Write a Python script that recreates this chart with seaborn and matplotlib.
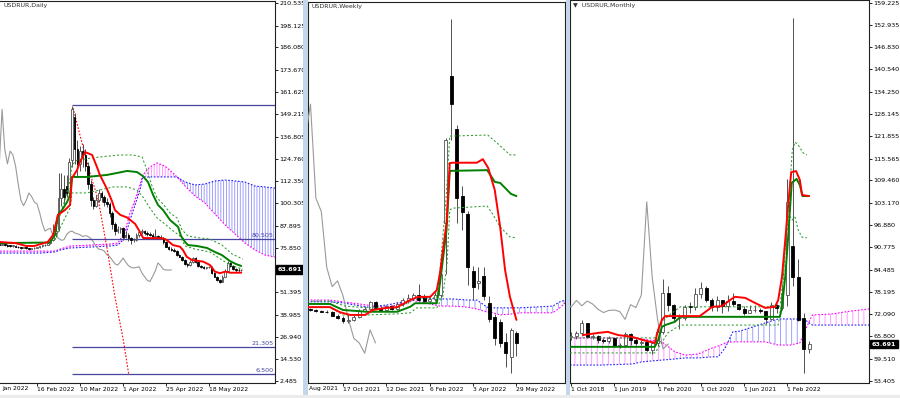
import numpy as np
import matplotlib
matplotlib.use("Agg")
import matplotlib.pyplot as plt
import matplotlib.transforms as mtransforms
from matplotlib.patches import Rectangle
import seaborn as sns

sns.set_theme(style="white")
plt.rcParams["font.family"] = ["DejaVu Sans"]
plt.rcParams["hatch.linewidth"] = 0.6
plt.rcParams["axes.unicode_minus"] = False

# ============================ DATA ============================
# ---- Daily USDRUR (bar index 0 .. 90) ----
daily_open = [78.0, 77.5, 78.0, 77.5, 77.0, 76.8, 77.0, 76.5, 76.2, 75.8,
              76.0, 75.5, 75.3, 75.5, 75.8, 76.0, 76.8, 77.2, 77.5, 78.5,
              80.0, 84.0, 86.0, 103.0, 108.0, 110.0, 106.0, 124.0, 148.0, 130.0,
              122.0, 129.0, 127.0, 121.0, 111.0, 102.0, 99.0, 102.0, 106.0, 104.0,
              101.0, 100.0, 95.0, 89.0, 85.0, 86.0, 86.5, 82.0, 83.0, 81.0,
              80.0, 80.2, 83.0, 84.5, 85.0, 84.0, 83.5, 83.0, 82.0, 82.5,
              82.0, 81.0, 79.0, 76.5, 75.0, 74.8, 74.0, 72.0, 71.0, 69.0,
              67.0, 66.3, 68.0, 70.2, 68.0, 66.0, 65.0, 64.7, 65.0, 65.4,
              62.0, 60.0, 58.0, 57.2, 60.0, 63.0, 67.5, 66.0, 64.0, 63.6, 63.5]
daily_high = [78.5, 78.5, 78.2, 77.8, 77.4, 77.5, 77.2, 76.8, 76.5, 76.4,
              76.2, 75.8, 75.9, 76.1, 76.4, 77.0, 77.6, 78.0, 79.0, 80.5,
              89.0, 88.0, 117.0, 117.0, 116.0, 116.0, 125.0, 154.0, 150.0, 135.0,
              132.0, 133.0, 130.0, 123.0, 113.0, 104.0, 105.0, 108.0, 107.0, 105.0,
              103.0, 101.0, 96.0, 90.0, 88.0, 87.5, 87.0, 85.0, 84.0, 82.0,
              81.0, 84.0, 85.5, 86.0, 85.5, 85.0, 84.5, 84.0, 86.0, 83.0,
              83.0, 81.5, 79.5, 77.0, 76.0, 75.5, 74.5, 72.5, 71.5, 69.5,
              67.5, 69.0, 71.0, 70.5, 68.5, 66.5, 66.0, 65.5, 66.0, 65.8,
              62.5, 60.5, 58.5, 61.0, 64.0, 68.5, 68.0, 66.5, 64.5, 64.5, 64.2]
daily_low = [77.0, 77.2, 77.0, 76.5, 76.3, 76.5, 76.0, 75.8, 75.3, 75.5,
             75.0, 74.8, 75.0, 75.2, 75.5, 75.8, 76.5, 76.9, 77.2, 78.0,
             79.5, 82.0, 85.0, 99.0, 100.0, 104.0, 104.0, 120.0, 122.0, 115.0,
             118.0, 120.0, 118.0, 108.0, 99.0, 97.0, 98.0, 101.0, 101.0, 99.0,
             98.0, 93.0, 86.0, 83.0, 84.0, 84.0, 80.0, 81.0, 79.5, 78.0,
             79.0, 79.5, 82.0, 83.5, 83.0, 82.5, 82.5, 81.5, 81.5, 81.0,
             80.5, 78.0, 76.0, 74.5, 74.0, 73.5, 71.5, 70.5, 68.5, 66.5,
             65.5, 66.0, 67.5, 67.5, 65.5, 64.5, 64.0, 64.0, 64.5, 61.5,
             59.5, 57.5, 56.5, 57.0, 59.5, 62.5, 65.0, 63.5, 62.5, 62.5, 63.0]
daily_close = [77.5, 78.0, 77.5, 77.0, 76.8, 77.0, 76.5, 76.2, 75.8, 76.0,
               75.5, 75.3, 75.5, 75.8, 76.0, 76.8, 77.2, 77.5, 78.5, 80.0,
               84.0, 85.0, 103.0, 108.0, 104.0, 106.0, 123.0, 152.0, 130.0, 122.0,
               129.0, 127.0, 121.0, 111.0, 102.0, 99.0, 102.0, 106.0, 104.0, 101.0,
               100.0, 95.0, 89.0, 85.0, 86.0, 86.5, 82.0, 83.0, 81.0, 80.0,
               80.2, 83.0, 84.5, 85.0, 84.0, 83.5, 83.0, 82.0, 82.5, 82.0,
               81.0, 79.0, 76.5, 75.0, 74.8, 74.0, 72.0, 71.0, 69.0, 67.0,
               66.3, 68.0, 70.2, 68.0, 66.0, 65.0, 64.7, 65.0, 65.4, 62.0,
               60.0, 58.0, 57.2, 60.0, 63.0, 67.5, 66.0, 64.0, 63.6, 63.5, 63.691]

daily_tenkan_x = [0, 6, 10, 13, 18, 20, 21.8, 24.4, 26.3, 27, 28.9, 30, 31.9, 34.5, 36.3, 37.4,
                  39.9, 41.9, 43, 45, 47.5, 50.5, 52.3, 53.5, 61, 62.3, 64.6, 67.2, 68.3, 69.7,
                  71.6, 75.8, 78.4, 80.2, 82.1, 84, 85.8, 90]
daily_tenkan_y = [79.0, 78.4, 76.8, 76.8, 79.0, 82.9, 93.9, 96.6, 99.4, 114.2, 118.6, 123.0, 128.5,
                  126.9, 120.3, 115.9, 108.6, 101.5, 96.6, 93.9, 92.5, 89.0, 84.5, 81.2, 81.0, 80.1,
                  77.3, 76.4, 74.6, 70.9, 69.1, 68.2, 66.3, 62.7, 61.8, 62.7, 62.1, 62.1]
daily_kijun_x = [0, 18.8, 20.7, 21.8, 23.3, 25.2, 26.3, 27, 32.6, 40, 43.8, 47.5, 51.2, 53.4, 55.3,
                 57.2, 59, 60.9, 63.5, 66.5, 67.6, 69.1, 70.2, 73.5, 77.3, 80.2, 82.8, 85.8, 88, 90]
daily_kijun_y = [78.4, 78.7, 82.9, 93.9, 96.6, 101.0, 104.9, 114.8, 114.8, 115.9, 117.0, 118.1,
                 117.5, 115.3, 112.0, 104.9, 99.4, 96.6, 91.1, 87.3, 82.3, 79.0, 77.3, 76.8, 75.7,
                 73.5, 71.8, 68.5, 66.9, 65.8]
daily_upper_x = [20.7, 22.6, 24.4, 26.3, 27, 28.9, 37.4, 44.9, 49.7, 53.1, 54.9, 56.8, 58.7, 60.9,
                 63.5, 66.1, 68, 70.2, 74.7, 78.4, 82.8, 86.6, 90.6]
daily_upper_y = [84.5, 93.9, 102.1, 113.1, 121.4, 124.1, 125.8, 126.9, 126.9, 125.8, 118.6, 109.8,
                 103.2, 99.9, 95.0, 92.2, 85.6, 82.3, 81.2, 80.6, 77.3, 72.4, 69.6]
daily_lower_x = [20.7, 22.6, 24.4, 26.3, 27, 32.6, 37.4, 42.3, 47.5, 51.2, 53.4, 56, 58.7, 61.6,
                 64.2, 67.2, 69.1, 72.8, 78.4, 82.8, 86.6, 90.6]
daily_lower_y = [80.1, 86.7, 92.2, 97.7, 106.0, 106.0, 107.6, 109.3, 109.3, 107.6, 103.8, 97.7,
                 92.2, 88.9, 85.6, 82.3, 76.8, 75.1, 73.5, 69.1, 65.8, 64.1]
daily_cloud_x = [0.2, 7.7, 15.1, 20.7, 22.6, 26.3, 33.7, 41.2, 44.1, 46.7, 48.6, 50.5, 52.3, 53.4,
                 56.0, 58.7, 61.6, 64.2, 66.1, 69.1, 72.8, 76.5, 80.2, 84.0, 87.7, 91.4, 95.1,
                 98.8, 102.6]
daily_span_a = [74.0, 74.0, 74.0, 74.0, 75.1, 76.8, 77.3, 77.9, 78.4, 84.5, 95.0, 102.1, 110.4,
                115.9, 120.3, 122.5, 120.8, 117.5, 114.8, 109.8, 104.3, 100.5, 94.4, 88.4, 83.4,
                78.4, 74.6, 71.8, 70.7]
daily_span_b = [72.9, 72.9, 72.9, 73.5, 74.6, 75.7, 76.2, 76.8, 77.3, 81.2, 91.1, 99.4, 107.6,
                114.8, 114.8, 114.8, 114.8, 114.8, 114.8, 112.0, 110.4, 110.9, 112.6, 113.1,
                112.6, 112.0, 109.8, 109.3, 108.7]
daily_levels = [154.5, 80.505, 21.305, 6.5]
daily_level_labels = ["", "80.505", "21.305", "6.500"]
daily_fan_x = [27.4, 31.1, 33.7, 36.8, 40.0, 43.0, 46.1, 48.1]
daily_fan_y = [152.8, 131.4, 117.0, 102.1, 76.0, 48.9, 25.1, 6.5]
daily_yticks = [210.535, 198.125, 186.080, 173.670, 161.625, 149.215, 136.805, 124.760, 112.350,
                100.305, 87.895, 75.850, 51.395, 38.985, 26.940, 14.530, 2.485]
daily_xtick_pos = [14, 30, 46, 62, 78]
daily_xtick_labels = ["16 Feb 2022", "10 Mar 2022", "1 Apr 2022", "25 Apr 2022", "18 May 2022"]
daily_first_label = "Jan 2022"

# ---- Weekly USDRUR (bar index 0 .. 38) ----
weekly_open = [73.4, 72.9, 72.6, 72.5, 72.3, 71.4, 70.8, 69.8, 70.3, 71.0, 72.8, 73.4, 75.2, 73.6,
               73.1, 74.0, 73.3, 74.8, 75.8, 76.4, 77.3, 76.6, 75.6, 76.2, 77.2, 97.5, 139.0,
               124.0, 105.0, 100.0, 84.0, 80.6, 82.5, 75.0, 71.0, 69.5, 64.1, 59.8, 66.5]
weekly_high = [73.6, 73.2, 73.0, 73.1, 72.6, 71.8, 71.2, 71.5, 71.6, 73.3, 74.0, 75.6, 75.4, 74.2,
               74.4, 74.5, 75.2, 76.3, 77.4, 77.8, 80.4, 77.5, 77.0, 78.0, 88.0, 121.5, 155.0,
               125.0, 108.0, 101.0, 85.5, 85.2, 85.0, 77.0, 72.0, 70.5, 66.5, 68.0, 67.0]
weekly_low = [72.7, 72.4, 72.3, 72.2, 71.2, 70.5, 69.4, 69.3, 70.0, 70.8, 72.3, 73.0, 73.2, 72.9,
              72.9, 72.9, 73.0, 74.1, 75.0, 75.9, 75.5, 75.2, 75.4, 75.5, 76.5, 83.0, 121.0,
              97.5, 95.5, 80.0, 75.8, 79.0, 75.8, 69.5, 63.0, 62.5, 57.0, 55.2, 60.0]
weekly_close = [72.9, 72.6, 72.5, 72.3, 71.4, 70.8, 69.8, 70.3, 71.0, 72.8, 73.4, 75.2, 73.6, 73.1,
                74.0, 73.3, 74.8, 75.8, 76.4, 77.3, 75.8, 75.6, 76.2, 77.2, 83.0, 121.0, 131.0,
                104.5, 100.7, 85.0, 79.6, 81.2, 77.0, 70.5, 65.0, 63.7, 60.8, 67.4, 63.691]
weekly_tenkan_x = [-0.6, 3.6, 5.4, 7.3, 10.1, 11.5, 14.1, 16.0, 18.4, 19.8, 22.1, 23.3, 23.9, 25.1,
                   25.7, 26.3, 30.7, 31.8, 32.8, 34.0, 35.0, 35.9, 36.8, 38.0]
weekly_tenkan_y = [73.8, 73.8, 72.4, 71.6, 71.6, 73.0, 73.6, 73.8, 75.8, 76.7, 76.7, 78.6, 83.4,
                   97.5, 114.4, 114.5, 114.5, 115.5, 113.0, 106.8, 96.4, 84.3, 76.7, 70.2]
weekly_kijun_x = [-0.6, 3.6, 6.0, 10.4, 16.0, 18.4, 19.3, 23.3, 23.9, 25.1, 25.7, 32.6, 34.0, 35.0,
                  37.0, 38.0]
weekly_kijun_y = [74.7, 74.7, 73.0, 72.5, 72.5, 73.9, 74.9, 74.9, 80.6, 95.5, 112.2, 112.4, 109.1,
                  108.8, 105.7, 105.1]
weekly_upper_x = [-0.6, 3.6, 6.4, 10.4, 16.0, 18.4, 19.3, 23.3, 23.9, 25.0, 25.7, 32.7, 34.4, 36.8, 38.0]
weekly_upper_y = [75.5, 75.5, 74.1, 73.6, 73.6, 75.3, 76.4, 76.4, 84.3, 104.0, 122.0, 122.3, 120.1,
                  116.7, 116.7]
weekly_lower_x = [-0.6, 3.6, 6.0, 10.4, 16.0, 18.4, 19.6, 23.3, 24.4, 25.2, 25.7, 26.3, 32.6, 33.5,
                  35.0, 36.8, 38.0]
weekly_lower_y = [73.8, 73.8, 71.6, 71.6, 71.9, 72.2, 73.6, 73.6, 76.7, 86.2, 101.2, 101.7, 102.3,
                  100.3, 96.4, 93.6, 93.3]
weekly_cloud_x = [-0.6, 3.6, 6.0, 10.4, 14.1, 16.0, 18.4, 20.2, 23.9, 26.3, 28.9, 30.7, 32.6, 33.7,
                  35.0, 37.4, 38.6, 41.1, 44.7, 46.0, 47.0]
weekly_span_a = [75.8, 75.8, 75.3, 74.4, 73.8, 74.4, 75.8, 75.3, 74.1, 74.1, 73.8, 73.3, 72.4, 72.2,
                 71.6, 71.9, 72.2, 72.2, 72.2, 73.6, 75.0]
weekly_span_b = [75.3, 75.3, 75.0, 73.8, 74.4, 75.0, 75.5, 76.4, 76.1, 76.1, 75.8, 75.8, 73.8, 73.6,
                 73.6, 73.6, 73.6, 73.8, 74.1, 75.3, 75.8]
weekly_xtick_pos = [6, 14, 22, 30, 38]
weekly_xtick_labels = ["17 Oct 2021", "12 Dec 2021", "6 Feb 2022", "3 Apr 2022", "29 May 2022"]
weekly_first_label = "Aug 2021"

# ---- Monthly USDRUR (bar index 0 = Oct 2018 .. 44 = Jun 2022) ----
monthly_open = [65.6, 65.8, 66.8, 69.5, 65.7, 65.8, 64.8, 64.6, 65.3, 63.1, 63.4, 66.6, 64.8, 63.9,
                64.2, 62.0, 63.9, 67.0, 78.0, 74.5, 70.9, 71.1, 74.1, 74.0, 77.8, 79.3, 76.0, 74.0,
                75.9, 74.4, 75.7, 74.9, 73.4, 72.5, 73.1, 73.2, 72.8, 70.6, 74.7, 73.9, 77.4, 91.0,
                82.5, 71.0, 62.3]
monthly_high = [67.0, 67.3, 70.5, 69.7, 66.5, 66.2, 65.3, 65.8, 65.4, 64.0, 67.0, 66.8, 65.3, 64.7,
                64.3, 64.0, 67.5, 82.0, 80.0, 75.0, 72.0, 74.5, 75.5, 79.5, 81.0, 80.0, 76.5, 77.0,
                76.0, 77.5, 78.0, 75.0, 74.3, 74.5, 74.5, 73.8, 73.0, 75.5, 75.0, 80.4, 110.0, 155.0,
                87.5, 72.5, 64.5]
monthly_low = [64.8, 65.0, 66.0, 65.3, 65.2, 63.9, 63.9, 64.1, 62.9, 62.5, 63.3, 63.5, 63.5, 63.5,
               61.8, 60.9, 63.2, 66.5, 72.8, 70.0, 68.0, 70.5, 72.5, 73.3, 76.5, 75.5, 72.8, 72.9,
               72.5, 72.8, 74.4, 73.2, 71.7, 72.3, 72.6, 72.3, 69.2, 70.4, 72.3, 73.3, 74.3, 80.0,
               70.0, 55.5, 61.3]
monthly_close = [65.8, 66.8, 69.5, 65.7, 65.8, 64.8, 64.6, 65.3, 63.1, 63.4, 66.6, 64.8, 63.9, 64.2,
                 62.0, 63.9, 67.0, 78.0, 74.5, 70.9, 71.1, 74.1, 74.0, 77.8, 79.3, 76.0, 74.0, 75.9,
                 74.4, 75.7, 74.9, 73.4, 72.5, 73.1, 73.2, 72.8, 70.6, 74.7, 73.9, 77.4, 103.5, 82.5,
                 70.5, 62.3, 63.691]
monthly_tenkan_x = [2.2, 5.0, 6.8, 8.7, 11.3, 13.3, 15.5, 16.1, 16.8, 17.4, 23.8, 26.1, 27.9, 29.4,
                    30.3, 32.2, 34.0, 35.9, 37.7, 38.3, 39.0, 39.6, 40.1, 40.7, 41.6, 42.3, 42.7, 44.0]
monthly_tenkan_y = [66.2, 66.8, 67.1, 66.2, 65.7, 64.8, 64.0, 67.6, 70.4, 71.5, 71.5, 74.1, 74.3,
                    76.0, 76.9, 76.6, 75.2, 73.8, 74.1, 76.0, 82.5, 92.8, 102.0, 111.8, 112.1, 109.6,
                    105.4, 105.1]
monthly_kijun_x = [-0.2, 15.5, 16.1, 16.8, 17.4, 19.2, 20.2, 38.6, 39.0, 39.6, 40.1, 40.8, 41.7,
                   42.3, 42.8, 44.0]
monthly_kijun_y = [62.9, 62.9, 64.8, 68.5, 69.0, 69.9, 71.3, 71.3, 74.1, 82.5, 92.8, 108.8, 109.9,
                   108.2, 105.1, 105.1]
monthly_upper_x = [-0.2, 15.5, 16.5, 17.9, 20.2, 38.6, 39.2, 39.7, 40.3, 40.9, 41.4, 42.0, 42.9, 43.6]
monthly_upper_y = [65.4, 65.4, 69.0, 71.5, 74.1, 74.1, 81.6, 92.8, 104.0, 118.0, 120.2, 119.4,
                   117.2, 116.6]
monthly_lower_x = [-0.2, 15.5, 16.5, 17.9, 20.2, 38.3, 39.0, 39.7, 40.3, 40.9, 41.4, 42.0, 42.7, 43.6]
monthly_lower_y = [61.2, 61.2, 63.4, 66.8, 69.0, 69.0, 76.0, 92.8, 99.8, 98.4, 99.2, 95.6, 93.6, 93.4]
monthly_cloud_x = [-0.2, 5.4, 11.3, 13.1, 16.8, 19.2, 21.1, 23.5, 26.1, 27.2, 28.5, 29.9, 31.2, 35.9,
                   38.3, 40.5, 42.3, 43.3, 44.6, 48.2, 51.6, 55.1]
monthly_span_a = [65.4, 65.4, 65.4, 65.1, 64.3, 61.5, 60.6, 60.9, 62.6, 63.1, 64.0, 64.3, 64.3, 64.3,
                  63.4, 63.4, 64.0, 67.6, 71.8, 72.1, 72.9, 73.5]
monthly_span_b = [57.8, 57.8, 58.1, 58.7, 59.2, 59.5, 59.8, 59.8, 60.1, 60.1, 62.6, 67.1, 67.3, 69.6,
                  70.7, 70.7, 70.7, 70.4, 69.0, 69.0, 69.0, 69.0]
monthly_yticks = [159.225, 152.935, 146.830, 140.540, 134.250, 128.145, 121.855, 115.565, 109.460,
                  103.170, 96.880, 90.775, 84.485, 78.195, 72.090, 65.800, 59.510, 53.405]
monthly_xtick_pos = [0, 8, 16, 24, 32, 40]
monthly_xtick_labels = ["1 Oct 2018", "1 Jun 2019", "1 Feb 2020", "1 Oct 2020", "1 Jun 2021",
                        "1 Feb 2022"]

last_price = 63.691
chikou_shift = 26

# ============================ STYLE ============================
RED = "#ff0000"
GREEN = "#008000"
LGREEN = "#2c9c2c"
MAG = "#ff00ff"
BLUE = "#2020ff"
NAVY = "#4646a0"
GRAY = "#9a9a9a"
WICK = "#505050"

fig = plt.figure(figsize=(9.0, 3.98), dpi=100)
fig.patch.set_facecolor("white")
W, H = 900.0, 398.0


def add_px_axes(l, t, r, b):
    return fig.add_axes([l / W, 1 - b / H, (r - l) / W, (b - t) / H])


ax1 = add_px_axes(0, 1, 275, 383)
ax2 = add_px_axes(307.5, 2, 565, 383)
ax3 = add_px_axes(570, 0, 869, 383)


def candles(ax, o, h, l, c, width, min_body):
    o, h, l, c = (np.asarray(v, float) for v in (o, h, l, c))
    idx = np.arange(len(o))
    up = c >= o
    ax.vlines(idx, l, h, colors=WICK, linewidth=0.7, zorder=9)
    bottom = np.minimum(o, c)
    height = np.maximum(np.abs(c - o), min_body)
    ax.bar(idx[up], height[up], width=width, bottom=bottom[up], color="white",
           edgecolor=WICK, linewidth=0.6, zorder=10)
    ax.bar(idx[~up], height[~up], width=width, bottom=bottom[~up], color="black",
           edgecolor="black", linewidth=0.6, zorder=10)


def cloud(ax, x, a, b, hatch):
    x, a, b = (np.asarray(v, float) for v in (x, a, b))
    ax.fill_between(x, a, b, where=a >= b, interpolate=True, facecolor="none",
                    edgecolor=(1.0, 0.0, 1.0, 0.45), hatch=hatch, linewidth=0, zorder=1)
    ax.fill_between(x, a, b, where=b > a, interpolate=True, facecolor="none",
                    edgecolor=(0.12, 0.12, 1.0, 0.5), hatch=hatch, linewidth=0, zorder=1)
    ax.plot(x, a, color=MAG, lw=0.8, ls=(0, (1.5, 1.5)), zorder=2)
    ax.plot(x, b, color=BLUE, lw=0.8, ls=(0, (1.5, 1.5)), zorder=2)


def ichimoku(ax, close, tx, ty, kx, ky, ux, uy, lx, ly):
    sns.lineplot(x=np.arange(len(close)) - chikou_shift, y=close, ax=ax, color=GRAY,
                 linewidth=0.8, zorder=3)
    ax.plot(ux, uy, color=LGREEN, lw=0.75, ls=(0, (2, 2)), zorder=11)
    ax.plot(lx, ly, color=LGREEN, lw=0.75, ls=(0, (2, 2)), zorder=11)
    sns.lineplot(x=kx, y=ky, ax=ax, color=GREEN, linewidth=1.4, zorder=12)
    sns.lineplot(x=tx, y=ty, ax=ax, color=RED, linewidth=1.4, zorder=13)


def style_axes(ax, xlim, ylim, xt, xl, yt=None):
    ax.set_xlim(xlim)
    ax.set_ylim(ylim)
    ax.set_facecolor("white")
    ax.grid(False)
    ax.set_xlabel("")
    ax.set_ylabel("")
    for s in ax.spines.values():
        s.set_color("#202020")
        s.set_linewidth(0.8)
    ax.set_xticks(xt)
    ax.set_xticklabels(xl)
    ax.tick_params(axis="x", bottom=True, length=2, width=0.6, pad=0.6, labelsize=4.3,
                   colors="black", direction="out")
    for lab in ax.get_xticklabels():
        lab.set_horizontalalignment("left")
    if yt is not None:
        ax.yaxis.tick_right()
        ax.set_yticks(yt)
        ax.set_yticklabels([f"{v:.3f}" for v in yt])
        ax.tick_params(axis="y", right=True, left=False, labelleft=False, length=2, width=0.6,
                       pad=1, labelsize=4.6, colors="black", direction="out")
    else:
        ax.set_yticks([])


def price_tag(ax, value, text):
    tr = mtransforms.blended_transform_factory(ax.transAxes, ax.transData)
    ax.text(1.0 + 2.5 / (ax.get_position().width * W), value, text, transform=tr, ha="left",
            va="center", fontsize=4.6, color="white", fontweight="bold", clip_on=False,
            zorder=30, bbox=dict(boxstyle="square,pad=0.3", fc="black", ec="black"))


def first_label(ax, text, frac):
    ax.text(frac, -3.2 / 382, text, transform=ax.transAxes, ha="left", va="top",
            fontsize=4.3, color="black", clip_on=False)


# ---------------- Daily panel ----------------
cloud(ax1, daily_cloud_x, daily_span_a, daily_span_b, "||||||")
ax1.hlines(daily_levels, 27, 102.56, colors=NAVY, linewidth=0.9, zorder=4)
for lev, lab in zip(daily_levels, daily_level_labels):
    if lab:
        ax1.text(101.9, lev + 0.6, lab, ha="right", va="bottom", fontsize=4.6, color=NAVY, zorder=5)
ax1.plot(daily_fan_x, daily_fan_y, color=RED, lw=0.8, ls=(0, (1.5, 1.5)), zorder=5)
ichimoku(ax1, daily_close, daily_tenkan_x, daily_tenkan_y, daily_kijun_x, daily_kijun_y,
         daily_upper_x, daily_upper_y, daily_lower_x, daily_lower_y)
candles(ax1, daily_open, daily_high, daily_low, daily_close, 0.6, 0.3)
style_axes(ax1, (0.23, 102.56), (1.39, 211.64), daily_xtick_pos, daily_xtick_labels, daily_yticks)
ax1.spines["left"].set_visible(False)
first_label(ax1, daily_first_label, 2.0 / 275)
ax1.text(0.012, 0.994, "USDRUR,Daily", transform=ax1.transAxes, ha="left", va="top",
         fontsize=4.5, color="#303030", zorder=30)
price_tag(ax1, last_price, "63.691")

# ---------------- Weekly panel ----------------
cloud(ax2, weekly_cloud_x, weekly_span_a, weekly_span_b, "|||")
ichimoku(ax2, weekly_close, weekly_tenkan_x, weekly_tenkan_y, weekly_kijun_x, weekly_kijun_y,
         weekly_upper_x, weekly_upper_y, weekly_lower_x, weekly_lower_y)
candles(ax2, weekly_open, weekly_high, weekly_low, weekly_close, 0.55, 0.2)
style_axes(ax2, (-0.55, 46.96), (52.42, 159.79), weekly_xtick_pos, weekly_xtick_labels)
first_label(ax2, weekly_first_label, 1.5 / 257.5)
ax2.text(0.014, 0.994, "USDRUR,Weekly", transform=ax2.transAxes, ha="left", va="top",
         fontsize=4.5, color="#303030", zorder=30)

# ---------------- Monthly panel ----------------
cloud(ax3, monthly_cloud_x, monthly_span_a, monthly_span_b, "|||")
ichimoku(ax3, monthly_close, monthly_tenkan_x, monthly_tenkan_y, monthly_kijun_x, monthly_kijun_y,
         monthly_upper_x, monthly_upper_y, monthly_lower_x, monthly_lower_y)
candles(ax3, monthly_open, monthly_high, monthly_low, monthly_close, 0.55, 0.2)
style_axes(ax3, (-0.185, 55.08), (52.78, 159.98), monthly_xtick_pos, monthly_xtick_labels,
           monthly_yticks)
ax3.text(0.01, 0.992, "\u25BC  USDRUR,Monthly", transform=ax3.transAxes, ha="left", va="top",
         fontsize=4.5, color="#303030", zorder=30)
price_tag(ax3, last_price, "63.691")

# ---------------- window separators ----------------
for x0 in (303.0, 565.5):
    fig.add_artist(Rectangle((x0 / W, 0), 4.5 / W, 1, transform=fig.transFigure,
                             facecolor="#c4d7ea", edgecolor="none", zorder=20))
fig.add_artist(Rectangle((0, 0), 1, 3 / H, transform=fig.transFigure,
                         facecolor="#ececec", edgecolor="none", zorder=20))

fig.savefig("out.png", dpi=100, facecolor="white")
